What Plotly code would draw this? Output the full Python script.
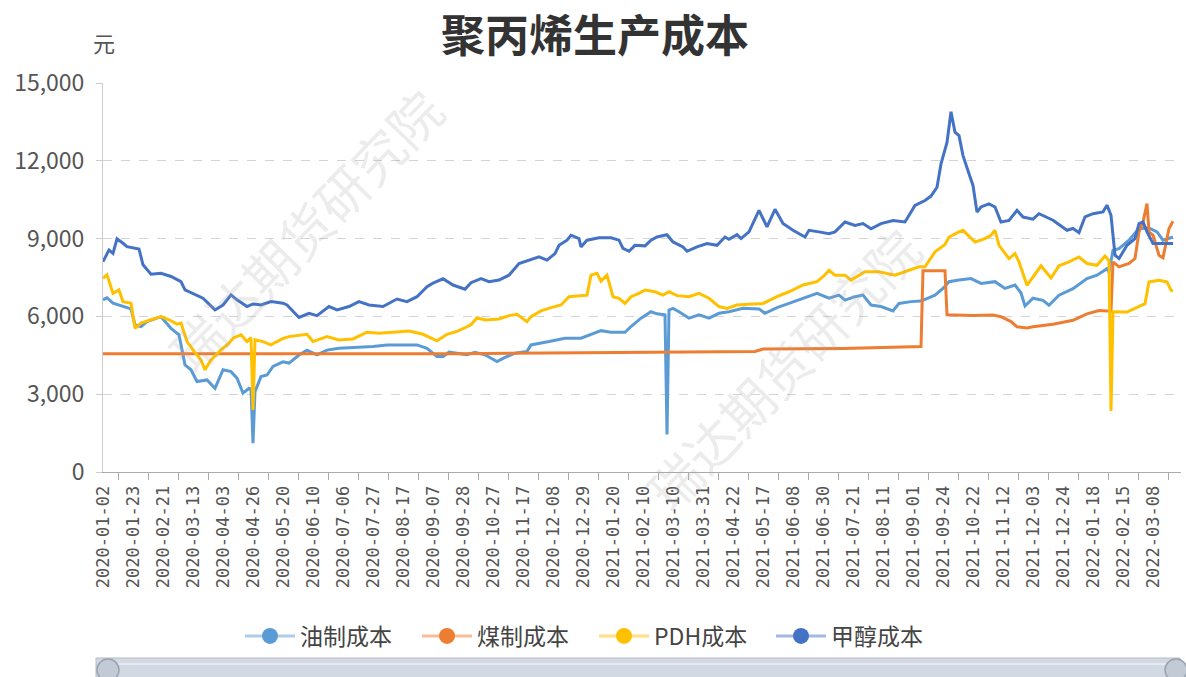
import plotly.graph_objects as go

# ---------------- data ----------------
TITLE = "聚丙烯生产成本"
UNIT = "元"
WATERMARK = "瑞达期货研究院"
SERIES_NAMES = ["油制成本", "煤制成本", "PDH成本", "甲醇成本"]
COLORS = ["#5B9BD5", "#ED7D31", "#FFC000", "#4472C4"]
LEGEND_LINE_COLORS = ["rgba(91,155,213,0.5)", "rgba(237,125,49,0.5)",
                      "rgba(255,192,0,0.5)", "rgba(68,114,196,0.5)"]

TICK_LABELS = [
    "2020-01-02", "2020-01-23", "2020-02-21", "2020-03-13", "2020-04-03", "2020-04-26",
    "2020-05-20", "2020-06-10", "2020-07-06", "2020-07-27", "2020-08-17", "2020-09-07",
    "2020-09-28", "2020-10-27", "2020-11-17", "2020-12-08", "2020-12-29", "2021-01-20",
    "2021-02-10", "2021-03-10", "2021-03-31", "2021-04-22", "2021-05-17", "2021-06-08",
    "2021-06-30", "2021-07-21", "2021-08-11", "2021-09-01", "2021-09-24", "2021-10-22",
    "2021-11-12", "2021-12-03", "2021-12-24", "2022-01-18", "2022-02-15", "2022-03-08",
]
LABEL_EVERY = 15      # a date label every 15 trading days
N_DAYS = 540          # trading-day slots on the category axis
Y_TICKS = [0, 3000, 6000, 9000, 12000, 15000]

# trading-day number -> value
OIL_DAY = [0, 2, 5, 10, 14, 16, 19, 22, 29, 34, 38, 41, 44, 47, 52, 56, 60, 64, 67, 70, 73,
           74, 75, 76, 79, 82, 85, 90, 93, 98, 102, 107, 112, 118, 127, 135, 142, 150, 157,
           162, 167, 170, 173, 182, 186, 191, 197, 201, 206, 212, 214, 223, 231, 239, 244,
           249, 254, 261, 264, 269, 274, 277, 281, 282, 283, 285, 288, 293, 298, 303, 308,
           313, 320, 328, 331, 337, 343, 350, 357, 363, 368, 371, 376, 380, 384, 389, 395,
           398, 404, 409, 416, 420, 423, 428, 434, 439, 446, 451, 456, 459, 461, 465, 470,
           473, 478, 485, 492, 497, 502, 503, 505, 508, 513, 518, 523, 527, 530, 535]
OIL_VAL = [6640, 6720, 6510, 6380, 6290, 5670, 5610, 5800, 5990, 5540, 5290, 4130, 3940, 3490,
           3550, 3230, 3940, 3870, 3620, 3040, 3230, 3200, 1110, 3100, 3680, 3740, 4070, 4250,
           4200, 4510, 4700, 4520, 4700, 4770, 4800, 4840, 4900, 4900, 4900, 4770, 4450, 4450,
           4620, 4520, 4620, 4520, 4260, 4420, 4580, 4650, 4900, 5030, 5160, 5160, 5290, 5450,
           5390, 5390, 5610, 5930, 6180, 6100, 6060, 1450, 6250, 6310, 6180, 5930, 6060, 5930,
           6120, 6180, 6310, 6290, 6120, 6340, 6500, 6700, 6890, 6700, 6820, 6630, 6760, 6820,
           6440, 6380, 6210, 6500, 6570, 6590, 6820, 7080, 7340, 7400, 7460, 7270, 7340, 7080,
           7210, 6900, 6400, 6700, 6620, 6430, 6820, 7070, 7460, 7590, 7840, 7700, 8550, 8610,
           8940, 9390, 9410, 9260, 8940, 9060]

COAL_DAY = [0, 60, 120, 180, 240, 300, 326, 330, 370, 409, 410, 421, 422, 435, 445, 449, 454,
            457, 462, 465, 475, 485, 492, 498, 504, 505, 508, 513, 516, 518, 520, 522, 523,
            525, 528, 530, 533, 535]
COAL_VAL = [4560, 4560, 4550, 4560, 4600, 4640, 4650, 4740, 4760, 4840, 7760, 7760, 6060, 6030,
            6050, 5990, 5800, 5600, 5550, 5600, 5700, 5850, 6100, 6230, 6200, 8100, 7910, 8040,
            8230, 9260, 9640, 10350, 9260, 9130, 8360, 8260, 9390, 9670]

PDH_DAY = [0, 2, 5, 8, 10, 14, 16, 19, 24, 29, 33, 37, 39, 42, 45, 49, 51, 54, 59, 63, 65, 69,
           72, 74, 75, 76, 80, 84, 87, 90, 93, 102, 105, 112, 118, 125, 132, 138, 145, 153, 160,
           167, 172, 177, 182, 184, 187, 191, 198, 203, 207, 212, 214, 219, 224, 229, 233, 238,
           242, 244, 247, 249, 252, 255, 258, 261, 264, 268, 271, 276, 280, 283, 287, 293, 298,
           303, 308, 312, 317, 323, 330, 337, 343, 350, 357, 360, 363, 366, 371, 374, 381, 388,
           396, 403, 408, 411, 416, 421, 423, 428, 430, 436, 441, 444, 446, 448, 453, 456, 458,
           462, 465, 469, 474, 478, 483, 488, 492, 497, 501, 503, 504, 505, 512, 518, 521, 523,
           528, 532, 534, 535]
PDH_VAL = [7470, 7600, 6890, 7020, 6570, 6510, 5540, 5740, 5870, 5990, 5870, 5700, 5740, 5030,
           4710, 4320, 3940, 4320, 4710, 4970, 5160, 5290, 5030, 5180, 2395, 5100, 5030, 4900,
           5030, 5150, 5220, 5310, 5030, 5220, 5090, 5130, 5390, 5350, 5390, 5440, 5310, 5060,
           5310, 5420, 5600, 5680, 5950, 5860, 5900, 6030, 6080, 5800, 5990, 6210, 6340, 6440,
           6760, 6800, 6820, 7590, 7660, 7360, 7590, 6760, 6700, 6500, 6760, 6890, 7020, 6950,
           6820, 6950, 6800, 6760, 6890, 6700, 6380, 6310, 6440, 6470, 6500, 6760, 6950, 7210,
           7340, 7530, 7780, 7590, 7590, 7400, 7720, 7720, 7590, 7780, 7910, 7910, 8490, 8770,
           9060, 9260, 9320, 8870, 9000, 9130, 9320, 8740, 8230, 8420, 8100, 7200, 7520, 7950,
           7480, 7950, 8100, 8290, 8040, 7970, 8330, 8150, 2350, 6180, 6170, 6370, 6490, 7330,
           7390, 7330, 7010, 6970]

METH_DAY = [0, 3, 5, 7, 10, 12, 18, 20, 24, 29, 34, 39, 41, 45, 50, 56, 60, 64, 67, 72, 75, 79,
            84, 90, 92, 98, 103, 107, 113, 117, 123, 128, 133, 140, 147, 152, 157, 162, 165,
            170, 175, 181, 184, 189, 193, 198, 203, 208, 213, 218, 222, 226, 228, 232, 234, 238,
            239, 242, 248, 254, 258, 260, 263, 266, 271, 274, 277, 282, 285, 290, 292, 297, 302,
            307, 311, 313, 317, 319, 323, 328, 332, 336, 340, 345, 351, 353, 358, 363, 366, 371,
            376, 380, 384, 389, 395, 401, 406, 411, 414, 417, 419, 422, 424, 426, 428, 430, 433,
            435, 437, 439, 443, 446, 449, 453, 457, 460, 465, 468, 475, 482, 485, 488, 491, 495,
            500, 502, 504, 506, 508, 512, 516, 518, 520, 522, 525, 535]
METH_VAL = [8110, 8560, 8430, 8990, 8820, 8690, 8600, 7990, 7630, 7660, 7540, 7340, 7020, 6890,
            6700, 6250, 6440, 6830, 6640, 6380, 6480, 6440, 6570, 6510, 6440, 5960, 6120, 6030,
            6380, 6250, 6380, 6570, 6440, 6380, 6670, 6570, 6760, 7150, 7280, 7450, 7210, 7050,
            7300, 7460, 7340, 7400, 7590, 8040, 8170, 8300, 8170, 8420, 8740, 8940, 9130, 9000,
            8680, 8940, 9030, 9030, 8940, 8620, 8510, 8740, 8720, 8940, 9060, 9150, 8870, 8680,
            8510, 8680, 8810, 8740, 9060, 8970, 9150, 9000, 9260, 10090, 9450, 10130, 9580, 9320,
            9060, 9320, 9260, 9190, 9260, 9640, 9510, 9580, 9380, 9580, 9700, 9640, 10280, 10470,
            10640, 10980, 11880, 12710, 13890, 13100, 12970, 12200, 11500, 11050, 10020, 10220,
            10340, 10220, 9640, 9700, 10090, 9830, 9750, 9960, 9710, 9320, 9390, 9230, 9840,
            9960, 10030, 10290, 9900, 8360, 8230, 8740, 9000, 9580, 9640, 9260, 8810, 8810]

SERIES_DAYS = [OIL_DAY, COAL_DAY, PDH_DAY, METH_DAY]
SERIES_VALS = [OIL_VAL, COAL_VAL, PDH_VAL, METH_VAL]

# ---------------- layout helpers ----------------
W, H = 1186, 677
L, R, T, B = 103, 5, 83, 205
PW, PH = W - L - R, H - T - B


def px_x(x):
    return (x - L) / PW


def px_y(y):
    return (H - B - y) / PH


FONT = "Noto Sans CJK SC, Noto Sans, sans-serif"

fig = go.Figure()

for name, color, days, vals in zip(SERIES_NAMES, COLORS, SERIES_DAYS, SERIES_VALS):
    fig.add_trace(go.Scatter(x=days, y=vals, mode="lines", name=name, showlegend=False,
                             line=dict(color=color, width=3), hoverinfo="x+y+name"))

# legend entries (pale line + solid circle marker as in the original)
for name, color, lcolor in zip(SERIES_NAMES, COLORS, LEGEND_LINE_COLORS):
    fig.add_trace(go.Scatter(x=[None], y=[None], mode="lines+markers", name=name,
                             line=dict(color=lcolor, width=3),
                             marker=dict(size=16, color=color)))

tick_vals = [i * LABEL_EVERY for i in range(len(TICK_LABELS))]

fig.update_layout(
    width=W, height=H, autosize=False,
    margin=dict(l=L, r=R, t=T, b=B),
    paper_bgcolor="white", plot_bgcolor="white",
    font=dict(family=FONT, color="#555555"),
    title=dict(text=TITLE, x=595 / W, xref="container", xanchor="center",
               y=1 - 37 / H, yref="container", yanchor="middle",
               font=dict(family=FONT, size=44, color="#333333", weight="bold")),
    showlegend=True,
    legend=dict(orientation="h", x=px_x(240), xanchor="left", y=px_y(636), yanchor="middle",
                font=dict(family=FONT, size=23, color="#444444"), itemwidth=50,
                entrywidth=112, entrywidthmode="pixels",
                bgcolor="rgba(0,0,0,0)"),
    xaxis=dict(type="linear", range=[0, N_DAYS - 1], tickmode="array", tickvals=tick_vals,
               ticktext=TICK_LABELS, tickangle=-90, ticks="", showgrid=False, zeroline=False,
               showline=True, linecolor="#aaaaaa", linewidth=1,
               tickfont=dict(family="DejaVu Sans Mono", size=17, color="#555555"),
               ticklabelstandoff=6,
               minor=dict(ticks="outside", tickmode="linear", tick0=LABEL_EVERY / 2,
                          dtick=LABEL_EVERY, ticklen=7, tickcolor="#aaaaaa", tickwidth=1,
                          showgrid=False)),
    yaxis=dict(range=[0, 15000], tickmode="array", tickvals=Y_TICKS, tickformat=",",
               showgrid=True, gridcolor="#d4d4d4", griddash="dash", gridwidth=1,
               zeroline=False, showline=True, linecolor="#cccccc", linewidth=1,
               ticks="outside", ticklen=6, tickcolor="#cccccc",
               tickfont=dict(family=FONT, size=23, color="#555555"), ticklabelstandoff=7),
)

# unit label
fig.add_annotation(text=UNIT, xref="paper", yref="paper", x=px_x(104), y=px_y(42),
                   showarrow=False, xanchor="center", yanchor="middle",
                   font=dict(family=FONT, size=22, color="#555555"))

# watermarks
for cx, cy in [(305, 230), (782, 368)]:
    fig.add_annotation(text=WATERMARK, xref="paper", yref="paper", x=px_x(cx), y=px_y(cy),
                       showarrow=False, textangle=-46, xanchor="center", yanchor="middle",
                       font=dict(family=FONT, size=52, color="rgba(170,170,170,0.22)"))

# data-zoom slider look-alike at the bottom
fig.add_shape(type="rect", xref="paper", yref="paper", x0=px_x(96), x1=px_x(1180),
              y0=px_y(690), y1=px_y(658), fillcolor="#d3d9e2", line=dict(color="#b4bcc8", width=1),
              layer="above")
fig.add_shape(type="line", xref="paper", yref="paper", x0=px_x(100), x1=px_x(1176),
              y0=px_y(664), y1=px_y(664), line=dict(color="#e6eaf0", width=2), layer="above")
for hx in [108, 1176]:
    fig.add_shape(type="circle", xref="paper", yref="paper", x0=px_x(hx - 11), x1=px_x(hx + 11),
                  y0=px_y(681), y1=px_y(659), fillcolor="#c2cad6",
                  line=dict(color="#98a2b0", width=1.5), layer="above")

fig.write_html("out.html", config={"displayModeBar": False},
               post_script="document.body.style.margin='0';document.body.style.padding='0';")
